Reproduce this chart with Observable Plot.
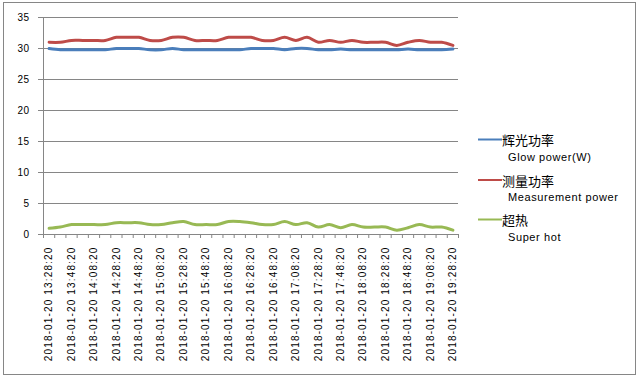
<!DOCTYPE html>
<html><head><meta charset="utf-8">
<script src="https://cdn.jsdelivr.net/npm/d3@7"></script>
<script src="https://cdn.jsdelivr.net/npm/@observablehq/plot@0.6"></script>
<style>
body{margin:0;background:#fff;}
#wrap{position:relative;width:640px;height:377px;overflow:hidden;background:#fff;}
#border{position:absolute;left:3px;top:2px;width:633px;height:373px;box-sizing:border-box;border:1px solid #868686;}
#chart{position:absolute;left:0;top:0;}
#legend{position:absolute;left:0;top:0;}
#chart g[aria-label="text"] text{letter-spacing:1.15px;}
#chart g[aria-label="y-axis tick label"] text{letter-spacing:0.5px;}
</style>
</head><body>
<div id="wrap"><div id="border"></div><div id="chart"></div><svg id="legend" width="640" height="377"></svg></div>
<script>
const times = ["2018-01-20 13:28:20","2018-01-20 13:38:20","2018-01-20 13:48:20","2018-01-20 13:58:20","2018-01-20 14:08:20","2018-01-20 14:18:20","2018-01-20 14:28:20","2018-01-20 14:38:20","2018-01-20 14:48:20","2018-01-20 14:58:20","2018-01-20 15:08:20","2018-01-20 15:18:20","2018-01-20 15:28:20","2018-01-20 15:38:20","2018-01-20 15:48:20","2018-01-20 15:58:20","2018-01-20 16:08:20","2018-01-20 16:18:20","2018-01-20 16:28:20","2018-01-20 16:38:20","2018-01-20 16:48:20","2018-01-20 16:58:20","2018-01-20 17:08:20","2018-01-20 17:18:20","2018-01-20 17:28:20","2018-01-20 17:38:20","2018-01-20 17:48:20","2018-01-20 17:58:20","2018-01-20 18:08:20","2018-01-20 18:18:20","2018-01-20 18:28:20","2018-01-20 18:38:20","2018-01-20 18:48:20","2018-01-20 18:58:20","2018-01-20 19:08:20","2018-01-20 19:18:20","2018-01-20 19:28:20"];
const glowPower = [30.0,29.8,29.8,29.8,29.8,29.8,30.0,30.0,30.0,29.8,29.8,30.0,29.8,29.8,29.8,29.8,29.8,29.8,30.0,30.0,30.0,29.8,30.0,30.0,29.8,29.8,29.9,29.8,29.8,29.8,29.8,29.8,29.9,29.8,29.8,29.8,29.9];
const measurementPower = [31.0,31.0,31.3,31.3,31.3,31.3,31.8,31.8,31.8,31.3,31.3,31.8,31.8,31.3,31.3,31.3,31.8,31.8,31.8,31.3,31.3,31.8,31.3,31.8,31.0,31.3,31.0,31.3,31.0,31.0,31.0,30.5,31.0,31.3,31.0,31.0,30.5];
const superHot = [1.0,1.2,1.6,1.6,1.6,1.6,1.9,1.9,1.9,1.6,1.6,1.9,2.1,1.6,1.6,1.6,2.1,2.1,1.9,1.6,1.6,2.1,1.6,1.9,1.2,1.6,1.1,1.6,1.2,1.2,1.2,0.7,1.1,1.6,1.2,1.2,0.7];
const yTicks = [0,5,10,15,20,25,30,35];
const seriesZh = ["辉光功率","测量功率","超热"];
const seriesEn = ["Glow power(W)","Measurement power","Super hot"];
const seriesColors = ["#4A7EBB","#BE4B48","#98B954"];
const seriesValues = [glowPower, measurementPower, superHot];

const idx = times.map((t, i) => i);
const boundaries = times.map((t, i) => i - 0.5).concat([times.length - 0.5]);
const labelIdx = idx.filter(i => i % 2 === 0);
const grid = "#868686";

const lineMarks = seriesValues.map((vals, s) =>
  Plot.line(idx, {x: i => i, y: i => vals[i], stroke: seriesColors[s], strokeWidth: 3, curve: "catmull-rom", strokeLinejoin: "round", strokeLinecap: "round"})
);

const chart = Plot.plot({
  width: 640, height: 377,
  marginLeft: 43, marginRight: 182, marginTop: 17, marginBottom: 143,
  x: {type: "linear", domain: [-0.5, times.length - 0.5], axis: null},
  y: {domain: [0, 35], axis: null},
  style: {fontFamily: "'Liberation Sans', Arial, sans-serif", fontSize: "10px", background: "transparent", color: "#000"},
  marks: [
    Plot.ruleY(yTicks, {stroke: grid, strokeWidth: 1}),
    Plot.ruleX([-0.5], {stroke: grid, strokeWidth: 1}),
    Plot.axisY({ticks: yTicks, tickSize: 5, tickPadding: 9, stroke: grid, strokeOpacity: 1, tickFormat: d => String(d)}),
    Plot.axisX({ticks: boundaries, tickSize: 4, stroke: grid, strokeOpacity: 1, tickFormat: () => ""}),
    ...lineMarks,
    Plot.text(labelIdx, {x: i => i, text: i => times[i], frameAnchor: "bottom", rotate: -90, textAnchor: "end", lineAnchor: "middle", dy: 12, fill: "#000", fontSize: 10})
  ]
});
document.getElementById("chart").appendChild(chart);

// legend
const leg = d3.select("#legend");
const lineYs = [139.5, 180, 219.5];
seriesZh.forEach((zh, s) => {
  const y = lineYs[s];
  leg.append("line").attr("x1", 478).attr("x2", 502).attr("y1", y).attr("y2", y)
    .attr("stroke", seriesColors[s]).attr("stroke-width", 2);
  leg.append("text").attr("x", 502).attr("y", y).attr("dominant-baseline", "central")
    .attr("font-family", "'Noto Sans CJK SC', sans-serif").attr("font-size", 13).attr("fill", "#000").text(zh);
  leg.append("text").attr("x", 508).attr("y", y + 21).attr("font-family", "'Liberation Sans', Arial, sans-serif")
    .attr("font-size", 11).attr("letter-spacing", "0.6px").attr("fill", "#000").text(seriesEn[s]);
});
</script>
</body></html>
